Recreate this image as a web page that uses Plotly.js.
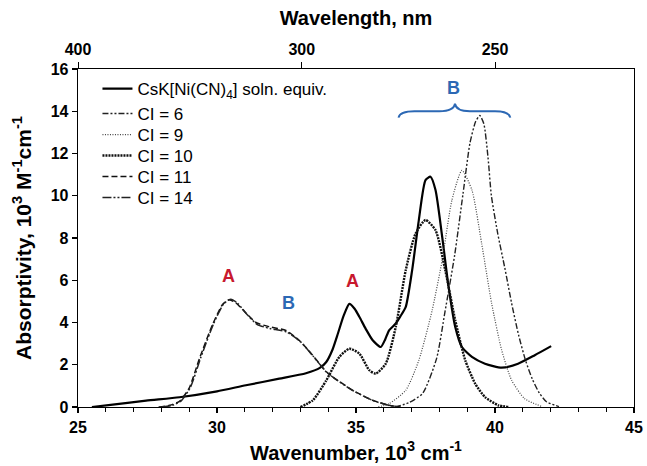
<!DOCTYPE html>
<html>
<head>
<meta charset="utf-8">
<script src="https://cdn.plot.ly/plotly-3.0.1.min.js"></script>
<style>html,body{margin:0;padding:0;background:#fff;}#chart{width:647px;height:466px;}</style>
</head>
<body>
<div id="chart"></div>
<script>
// ---- Data (wavenumber in 10^3 cm^-1, absorptivity in 10^3 M^-1 cm^-1) ----
const solnX = [25.5,26.25,27.45,28.65,30.0,31.04,32.24,33.2,33.7,33.93,34.15,34.35,34.55,34.76,34.95,35.12,35.35,35.6,35.89,36.05,36.19,36.43,36.6,36.79,37.02,37.26,37.5,37.68,37.86,38.1,38.33,38.57,38.81,39.17,39.64,40.24,40.83,41.43,42.02];
const solnY = [0,0.11,0.3,0.46,0.74,1.03,1.34,1.6,1.85,2.13,2.7,3.48,4.3,4.88,4.65,4.27,3.7,3.16,2.84,3.2,3.63,3.95,4.3,4.74,6.48,8.85,10.74,10.9,10.27,8.06,5.69,3.79,2.84,2.37,2.05,1.86,2.05,2.45,2.88];

const ci6X = [36.4,36.9,37.4,37.9,38.2,38.55,38.85,39.1,39.3,39.45,39.6,39.75,39.87,40.1,40.35,40.6,40.85,41.1,41.35,41.6,41.85,42.3];
const ci6Y = [0,0.2,0.65,2.3,4.5,7.2,10.1,12.5,13.5,13.8,13.4,11.8,10.0,8.2,6.6,4.9,3.4,2.2,1.3,0.65,0.25,0.02];

const ci9X = [35.8,36.19,36.79,37.26,37.74,38.1,38.45,38.81,39.17,39.52,39.88,40.24,40.6,41.07,41.67];
const ci9Y = [0,0.16,0.79,2.21,4.58,6.95,9.79,11.2,10.27,7.74,4.9,2.69,1.26,0.39,0.03];

const ci10X = [33.0,33.45,33.93,34.4,34.76,35.12,35.48,35.71,36.07,36.43,36.79,37.14,37.5,37.86,38.21,38.57,38.93,39.29,39.64,40.12,40.5];
const ci10Y = [0,0.32,1.26,2.37,2.76,2.53,1.74,1.58,2.05,3.79,6.48,8.2,8.85,8.37,6.48,4.1,2.21,1.1,0.47,0.08,0];

const ci11X = [27.9,28.3,28.65,29.0,29.37,29.84,30.2,30.44,30.68,31.04,31.4,31.88,32.48,32.96,33.44,33.92,34.17,34.88,35.6,36.2,36.6];
const ci11Y = [0,0.08,0.27,0.9,2.3,3.9,4.85,5.08,4.93,4.45,4.0,3.8,3.62,3.15,2.45,1.69,1.42,0.79,0.32,0.08,0];

const ci14X = [28.0,28.4,28.72,29.05,29.42,29.88,30.25,30.5,30.75,31.1,31.45,31.9,32.5,32.98,33.46,33.94,34.2,34.9,35.62,36.2,36.6];
const ci14Y = [0,0.08,0.3,0.95,2.35,3.95,4.9,5.1,4.9,4.35,3.9,3.72,3.55,3.12,2.4,1.65,1.38,0.77,0.3,0.07,0];

const seriesNames = ["CsK[Ni(CN)<sub>4</sub>] soln. equiv.","CI = 6","CI = 9","CI = 10","CI = 11","CI = 14"];

const xTicks = [25,30,35,40,45];
const yTicks = [0,2,4,6,8,10,12,14,16];
const wavelengthLabels = ["400","300","250"];
const wavelengthPos = [25,33.05,40];

// annotation labels
const labelText = ["A","B","A","B"];
const labelX = [30.42,32.57,34.87,38.5];
const labelY = [6.2,4.9,5.95,15.1];
const labelColor = ["#c8192e","#2c68b4","#c8192e","#2c68b4"];

// ---- Traces ----
const fontFam = '"Liberation Sans", Arial, sans-serif';
const legendIds = ['legend','legend2','legend3','legend4','legend5','legend6'];
function tr(i,x,y,color,width,dash){
  return {x:x,y:y,name:seriesNames[i],type:'scatter',mode:'lines',legend:legendIds[i],
    line:{color:color,width:width,dash:dash,shape:'spline',smoothing:0.6},hoverinfo:'skip'};
}
const traces = [
  tr(0,solnX,solnY,'#000',2.2,'solid'),
  tr(1,ci6X,ci6Y,'#222',1.4,'6px,2px,2px,2px,2px,2px'),
  tr(2,ci9X,ci9Y,'#444',1.2,'1px,1.5px'),
  tr(3,ci10X,ci10Y,'#111',2.4,'2px,1px'),
  tr(4,ci11X,ci11Y,'#111',1.5,'6px,3px'),
  tr(5,ci14X,ci14Y,'#222',1.5,'9px,2px,2px,2px,2px,2px'),
  {x:[xTicks[0]],y:[0],xaxis:'x2',yaxis:'y',type:'scatter',mode:'markers',
   marker:{opacity:0},showlegend:false,hoverinfo:'skip'}
];

const annotations = labelText.map((t,i)=>({
  x:labelX[i],y:labelY[i],xref:'x',yref:'y',text:'<b>'+t+'</b>',showarrow:false,
  font:{family:fontFam,size:18,color:labelColor[i]}
}));

// legend row centres in pixels (layout positions)
const plotTop = 69, plotH = 338;
const rowPx = [89,114,135,156,177,198];

const layout = {
  width:647,height:466,
  margin:{l:78,r:13,t:plotTop,b:466-plotTop-plotH},
  paper_bgcolor:'#fff',plot_bgcolor:'#fff',
  font:{family:fontFam,color:'#000'},
  showlegend:true,
  xaxis:{range:[25,45],tickvals:xTicks,ticks:'outside',ticklen:5,tickwidth:1.2,tickcolor:'#000',
    minor:{dtick:1,ticks:'outside',ticklen:4,tickcolor:'#000',tickwidth:1,showgrid:false},
    showline:true,linecolor:'#000',linewidth:1.3,showgrid:false,zeroline:false,
    tickfont:{family:fontFam,size:16,weight:'bold'},
    title:{text:'Wavenumber, 10<sup>3</sup> cm<sup>-1</sup>',font:{family:fontFam,size:20,weight:'bold'},standoff:11}},
  xaxis2:{overlaying:'x',side:'top',range:[25,45],tickvals:wavelengthPos,ticktext:wavelengthLabels,
    ticks:'outside',ticklen:6,tickwidth:1,tickcolor:'#000',
    showline:true,linecolor:'#000',linewidth:1.3,showgrid:false,zeroline:false,
    tickfont:{family:fontFam,size:16,weight:'bold'},
    title:{text:'Wavelength, nm',font:{family:fontFam,size:20,weight:'bold'},standoff:10}},
  yaxis:{range:[0,16],tickvals:yTicks,ticks:'outside',ticklen:5,tickwidth:1.2,tickcolor:'#000',
    showline:true,mirror:true,linecolor:'#000',linewidth:1.3,showgrid:false,zeroline:false,
    tickfont:{family:fontFam,size:16,weight:'bold'},
    title:{text:'Absorptivity, 10<sup>3</sup> M<sup>-1</sup>cm<sup>-1</sup>',font:{family:fontFam,size:21,weight:'bold'},standoff:13}},
  annotations:annotations,
  shapes:[{type:'path',xref:'x',yref:'y',
    path:'M 36.53,13.7 Q 36.58,14.0 37.1,14.0 L 38.0,14.0 Q 38.52,14.0 38.56,14.36 Q 38.6,14.0 39.1,14.0 L 40.0,14.0 Q 40.5,14.0 40.55,13.7',
    line:{color:'#2c68b4',width:2}}]
};
legendIds.forEach((id,i)=>{
  layout[id] = {x:0.035,y:1-(rowPx[i]-plotTop)/plotH,xanchor:'left',yanchor:'middle',
    bgcolor:'rgba(0,0,0,0)',font:{family:fontFam,size:17,color:'#000'}};
});

Plotly.newPlot('chart',traces,layout,{staticPlot:true,displayModeBar:false});
</script>
</body>
</html>
